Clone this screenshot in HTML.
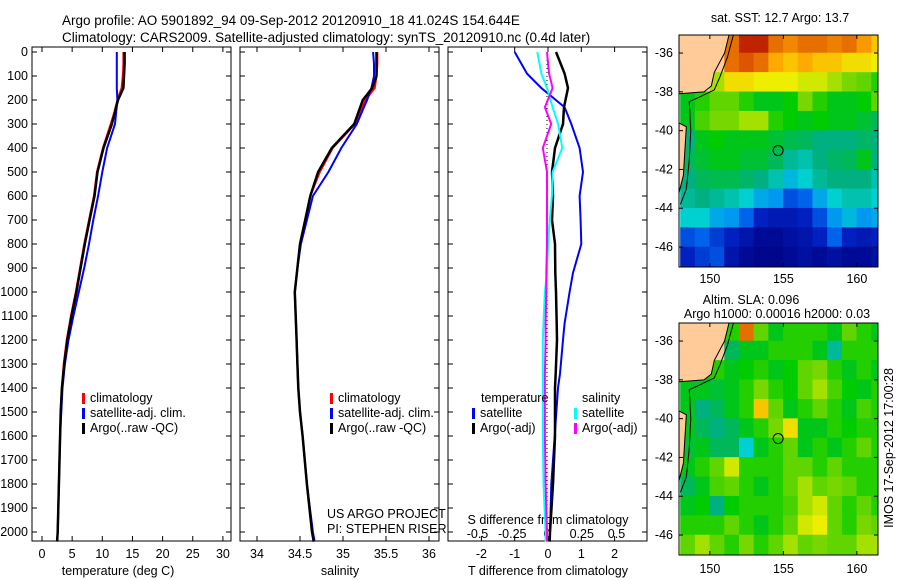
<!DOCTYPE html>
<html><head><meta charset="utf-8"><style>
body{margin:0;background:#fff}
svg{display:block;font-family:"Liberation Sans",sans-serif}
text{font-size:12.5px;fill:#000}
</style></head><body>
<svg id="c" width="900" height="580" viewBox="0 0 900 580">
<text x="62" y="25" style="font-size:13.5px">Argo profile: AO 5901892_94 09-Sep-2012 20120910_18 41.024S 154.644E</text>
<text x="62" y="42" style="font-size:13.5px">Climatology: CARS2009. Satellite-adjusted climatology: synTS_20120910.nc (0.4d later)</text>
<g id="g"></g>
</svg>
<script>
const depths=[0,50,100,150,200,250,300,400,500,600,700,800,900,1000,1100,1200,1300,1400,1500,1600,1800,2000,2040];
const tClim=[13.5,13.5,13.4,13.2,12.5,12.0,11.4,10.1,9.1,8.6,7.8,7.0,6.3,5.6,4.8,4.1,3.6,3.3,3.1,3.0,2.8,2.6,2.5];
const tSat=[12.4,12.4,12.4,12.4,12.5,12.3,12.1,10.8,10.0,9.3,8.5,7.8,7.0,6.1,5.2,4.4,3.8,3.4,3.2,3.0,2.8,2.6,2.5];
const tArgo=[13.7,13.7,13.6,13.5,12.6,12.1,11.6,10.2,9.2,8.7,7.9,7.1,6.4,5.7,4.9,4.2,3.7,3.3,3.1,3.0,2.8,2.6,2.5];
const sClim=[35.40,35.40,35.39,35.37,35.26,35.20,35.14,34.88,34.73,34.62,34.56,34.50,34.47,34.44,34.45,34.46,34.47,34.48,34.50,34.53,34.58,34.64,34.66];
const sSat=[35.35,35.36,35.36,35.33,35.28,35.22,35.16,34.98,34.83,34.65,34.58,34.51,34.47,34.44,34.45,34.46,34.47,34.48,34.50,34.53,34.58,34.65,34.67];
const sArgo=[35.39,35.39,35.39,35.34,35.23,35.18,35.13,34.87,34.71,34.62,34.56,34.50,34.47,34.44,34.45,34.46,34.47,34.48,34.50,34.53,34.58,34.64,34.66];
const dDepths=[0,90,150,230,300,400,500,600,700,800,920,1000,1130,1200,1340,1400,1600,1800,2000,2040];
const dTsat=[-1.0,-0.63,-0.2,0.5,0.7,0.95,1.05,0.95,0.98,1.0,0.75,0.65,0.5,0.45,0.36,0.3,0.2,0.1,0.06,0.05];
const dTargo=[0.24,0.5,0.6,0.48,0.45,0.21,0.12,0.15,0.12,0.21,0.22,0.24,0.26,0.27,0.23,0.21,0.21,0.15,0.06,0.05];
const dSsat=[-0.07,-0.04,0,0.04,0.08,0.11,0.04,0.035,0.02,0.007,0,-0.015,-0.025,-0.03,-0.03,-0.03,-0.03,-0.025,-0.01,-0.01];
const dSargo=[0,0.015,0.04,-0.015,0.03,-0.03,0,0,0,0,-0.005,-0.005,-0.01,-0.01,-0.015,-0.015,-0.015,-0.01,0,0];
const depthTicks=[0,100,200,300,400,500,600,700,800,900,1000,1100,1200,1300,1400,1500,1600,1700,1800,1900,2000];
const tTicks=[0,5,10,15,20,25,30];
const sTicks=[34,34.5,35,35.5,36];
const dtTicks=[-2,-1,0,1,2];
const dsTicks=[-0.5,-0.25,0,0.25,0.5];
const lonTicks=[150,155,160];
const latTicks=[-36,-38,-40,-42,-44,-46];
const sstGrid=[
[-1,-1,-1,0.85,0.95,0.95,0.85,0.82,0.85,0.85,0.83,0.85,0.8,0.75],
[-1,-1,-1,0.85,0.88,0.85,0.78,0.75,0.78,0.75,0.75,0.72,0.72,0.7],
[-1,-1,0.65,0.72,0.72,0.7,0.7,0.7,0.68,0.68,0.65,0.62,0.6,0.55],
[0.5,0.55,0.6,0.6,0.55,0.5,0.5,0.52,0.62,0.55,0.5,0.5,0.52,0.6],
[0.5,0.58,0.62,0.62,0.65,0.65,0.55,0.52,0.5,0.52,0.5,0.5,0.48,0.45],
[0.42,0.5,0.52,0.5,0.5,0.5,0.48,0.46,0.45,0.42,0.42,0.42,0.44,0.42],
[0.45,0.48,0.5,0.5,0.48,0.48,0.45,0.4,0.38,0.42,0.44,0.45,0.5,0.42],
[0.42,0.45,0.46,0.46,0.44,0.42,0.38,0.32,0.35,0.4,0.42,0.42,0.42,0.38],
[0.4,0.42,0.4,0.38,0.35,0.3,0.28,0.2,0.22,0.3,0.35,0.38,0.38,0.35],
[0.35,0.35,0.3,0.28,0.22,0.15,0.12,0.12,0.15,0.2,0.28,0.32,0.28,0.3],
[0.2,0.22,0.18,0.15,0.1,0.05,0.05,0.08,0.1,0.15,0.22,0.15,0.12,0.15],
[0.15,0.18,0.2,0.1,0.05,0.03,0.03,0.05,0.08,0.05,0.08,0.05,0.05,0.08]];
const slaGrid=[
[-1,-1,-1,0.55,0.85,0.6,0.5,0.55,0.55,0.55,0.5,0.6,0.55,0.5],
[-1,-1,-1,0.45,0.5,0.5,0.55,0.55,0.55,0.5,0.4,0.55,0.55,0.55],
[0.5,0.52,0.55,0.5,0.52,0.55,0.5,0.52,0.6,0.62,0.55,0.5,0.55,0.5],
[0.5,0.5,0.48,0.5,0.55,0.62,0.55,0.52,0.6,0.65,0.58,0.52,0.5,0.55],
[0.5,0.42,0.45,0.5,0.55,0.75,0.6,0.5,0.55,0.6,0.55,0.5,0.58,0.55],
[0.5,0.45,0.42,0.45,0.5,0.55,0.62,0.72,0.5,0.5,0.55,0.52,0.55,0.55],
[0.48,0.5,0.45,0.45,0.35,0.5,0.55,0.6,0.5,0.55,0.5,0.55,0.6,0.55],
[0.5,0.55,0.6,0.68,0.55,0.55,0.55,0.6,0.6,0.55,0.6,0.55,0.55,0.55],
[0.45,0.5,0.58,0.6,0.55,0.5,0.55,0.6,0.65,0.6,0.62,0.6,0.55,0.55],
[0.5,0.52,0.42,0.52,0.55,0.55,0.55,0.58,0.65,0.68,0.6,0.55,0.6,0.55],
[0.55,0.55,0.55,0.6,0.55,0.5,0.55,0.6,0.68,0.7,0.6,0.55,0.62,0.6],
[0.6,0.65,0.6,0.55,0.62,0.55,0.6,0.65,0.6,0.62,0.6,0.6,0.65,0.65]];
const floatLon=154.644, floatLat=-41.024;

const NS='http://www.w3.org/2000/svg';
const G=document.getElementById('g');
function el(t,a,p){const e=document.createElementNS(NS,t);for(const k in a)e.setAttribute(k,a[k]);(p||G).appendChild(e);return e;}
function txt(x,y,s,anchor,p){const e=el('text',{x:x,y:y,'text-anchor':anchor||'start'},p);e.textContent=s;return e;}
const yD=d=>52+d*0.24;
const T1=v=>42+v*6.03, S2=v=>257+(v-34)*86, DT=v=>548+v*33.3, DS=v=>547+v*139;
const panels=[[32,'temperature-panel'],[240,'salinity-panel'],[448,'difference-panel']];
panels.forEach(([x,n])=>{const r=el('rect',{x:x,y:47,width:199,height:494,fill:'none',stroke:'#000','stroke-width':1});

depthTicks.forEach(d=>{el('line',{x1:x,x2:x+5,y1:yD(d),y2:yD(d),stroke:'#000'});el('line',{x1:x+199,x2:x+194,y1:yD(d),y2:yD(d),stroke:'#000'});});});
depthTicks.forEach(d=>{const t=txt(28,yD(d)+4,String(d),'end');});
function xt(ticks,f,y,lab){ticks.forEach(v=>{const x=f(v);el('line',{x1:x,x2:x,y1:47,y2:52,stroke:'#000'});el('line',{x1:x,x2:x,y1:541,y2:536,stroke:'#000'});
const t=txt(x,y,String(v),'middle');});}
xt(tTicks,T1,558,'temperature-tick-label');
xt(sTicks,S2,558,'salinity-tick-label');
xt(dtTicks,DT,558,'t-diff-tick-label');
dsTicks.forEach(v=>{const t=txt(DS(v),538,String(v),'middle');});
[[118,'temperature (deg C)','x-axis-title-temperature'],[340,'salinity','x-axis-title-salinity'],[548,'T difference from climatology','x-axis-title-t-diff']].forEach(([x,s,n])=>{const t=txt(x,575,s,'middle');});
const sdl=txt(548,524,'S difference from climatology','middle');

function line(ds,vals,f,col,w,n){const p=ds.map((d,i)=>f(vals[i]).toFixed(1)+','+yD(d).toFixed(1)).join(' ');
const e=el('polyline',{points:p,fill:'none',stroke:col,'stroke-width':w});}
line(depths,tClim,T1,'#f00',2,'temp-climatology-line');
line(depths,tSat,T1,'#00f',2,'temp-satellite-line');
line(depths,tArgo,T1,'#000',2.5,'temp-argo-line');
line(depths,sClim,S2,'#f00',2,'sal-climatology-line');
line(depths,sSat,S2,'#00f',2,'sal-satellite-line');
line(depths,sArgo,S2,'#000',2.5,'sal-argo-line');
const z=el('line',{x1:547,x2:547,y1:52,y2:536,stroke:'#000','stroke-dasharray':'1,3'});

line(dDepths,dTsat,DT,'#00f',2,'tdiff-satellite-line');
line(dDepths,dTargo,DT,'#000',2.5,'tdiff-argo-line');
line(dDepths,dSsat,DS,'#0ff',2,'sdiff-satellite-line');
line(dDepths,dSargo,DS,'#f0f',2,'sdiff-argo-line');
function leg(x,y,col,s,n){if(col){el('rect',{x:x,y:y-9,width:3,height:11,fill:col});}
const t=txt(x+(col?8:0),y,s);}
leg(82,402,'#f00','climatology','legend-entry-climatology');
leg(82,417,'#00f','satellite-adj. clim.','legend-entry-satellite');
leg(82,432,'#000','Argo(..raw -QC)','legend-entry-argo');
leg(330,402,'#f00','climatology','legend-entry-climatology-2');
leg(330,417,'#00f','satellite-adj. clim.','legend-entry-satellite-2');
leg(330,432,'#000','Argo(..raw -QC)','legend-entry-argo-2');
leg(481,402,null,'temperature','legend-title-temperature');
leg(472,417,'#00f','satellite','legend-entry-t-satellite');
leg(472,432,'#000','Argo(-adj)','legend-entry-t-argo');
leg(582,402,null,'salinity','legend-title-salinity');
leg(574,417,'#0ff','satellite','legend-entry-s-satellite');
leg(574,432,'#f0f','Argo(-adj)','legend-entry-s-argo');
leg(327,518,null,'US ARGO PROJECT','project-label');
leg(327,533,null,'PI: STEPHEN RISER','pi-label');
const stops=[[0,[0,0,127]],[0.15,[0,32,192]],[0.25,[0,128,255]],[0.35,[0,208,208]],[0.42,[0,176,128]],[0.52,[0,204,0]],[0.62,[120,215,0]],[0.7,[238,238,0]],[0.78,[255,170,0]],[0.88,[221,85,0]],[1,[170,0,0]]];
function cmap(v){for(let i=1;i<stops.length;i++){if(v<=stops[i][0]){const a=stops[i-1],b=stops[i],t=(v-a[0])/(b[0]-a[0]);return 'rgb('+a[1].map((c,k)=>Math.round(c+(b[1][k]-c)*t)).join(',')+')';}}return 'rgb(170,0,0)';}
function map(top,grid,n,lonLabY){const X=lon=>679+(lon-147.9)*14.7, Y=lat=>top+(-35.07-lat)*19.4;
const g=el('g',{});
const cp=el('clipPath',{id:'cp'+top},g);el('rect',{x:679,y:top,width:199,height:232},cp);
const gg=el('g',{'clip-path':'url(#cp'+top+')'},g);
grid.forEach((row,i)=>row.forEach((v,j)=>{const c=el('rect',{x:X(148+j)-0.3,y:Y(-35-i)-0.3,width:15.3,height:20,fill:v<0?'#ffcc99':cmap(v)},gg);
}));
const land=[[147.9,-35.07],[151.3,-35.07],[151,-36],[150.3,-37],[150.1,-37.7],[149.6,-38.0],[147.9,-38.1]].map(p=>X(p[0])+','+Y(p[1])).join(' ');
el('polygon',{points:land,fill:'#ffcc99',stroke:'#000'},gg);
el('polygon',{points:[[147.9,-39.6],[148.4,-39.8],[148.3,-41],[148.2,-42.3],[147.9,-43.2]].map(p=>X(p[0])+','+Y(p[1])).join(' '),fill:'#ffcc99',stroke:'#000'},gg);
el('polyline',{points:[[151.6,-35.07],[151.2,-36.2],[150.7,-37.2],[150.3,-37.9],[149.2,-38.3],[148.6,-38.5],[148.7,-40],[148.6,-41.5],[148.4,-43],[148,-43.8]].map(p=>X(p[0])+','+Y(p[1])).join(' '),fill:'none',stroke:'#000'},gg);
el('rect',{x:679,y:top,width:199,height:232,fill:'none',stroke:'#000'},g);
const m=el('circle',{cx:X(floatLon),cy:Y(floatLat),r:5,fill:'none',stroke:'#000','stroke-width':1},g);

lonTicks.forEach(v=>{const x=X(v);el('line',{x1:x,x2:x,y1:top,y2:top+4,stroke:'#000'},g);el('line',{x1:x,x2:x,y1:top+232,y2:top+228,stroke:'#000'},g);
const t=txt(x,lonLabY,String(v),'middle',g);});
latTicks.forEach(v=>{const y=Y(v);el('line',{x1:679,x2:683,y1:y,y2:y,stroke:'#000'},g);el('line',{x1:878,x2:874,y1:y,y2:y,stroke:'#000'},g);
const t=txt(673,y+4,String(v),'end',g);});}
map(35,sstGrid,'sst-map',283);
map(323,slaGrid,'sla-map',573);
[[780,22,'sat. SST: 12.7 Argo: 13.7','sst-map-title'],[751,304,'Altim. SLA: 0.096','sla-map-title'],[777,318,'Argo h1000: 0.00016 h2000: 0.03','argo-height-label']].forEach(([x,y,s,n])=>{const t=txt(x,y,s,'middle');});
const v=txt(0,0,'IMOS 17-Sep-2012 17:00:28','middle');v.setAttribute('transform','translate(893,448) rotate(-90)');

</script>
</body></html>
